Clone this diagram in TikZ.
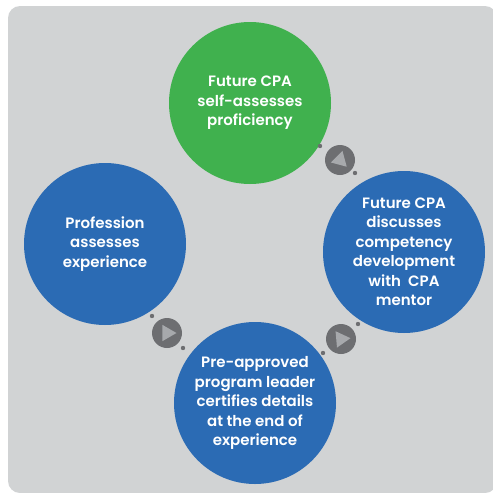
\documentclass[tikz,border=0pt]{standalone}
\usepackage{fontspec}
\setmainfont{Poppins}[UprightFont=* SemiBold]
\usepackage{tikz}
\usetikzlibrary{shapes,shapes.geometric}
\definecolor{bggray}{HTML}{D1D3D4}
\definecolor{stagegreen}{HTML}{40B14E}
\definecolor{stageblue}{HTML}{2B6BB4}
\definecolor{badgegray}{HTML}{6D6E71}
\definecolor{tipgray}{HTML}{A7A9AC}
\tikzstyle{stage} = [circle, draw=none, minimum size=162pt, inner sep=0pt, text=white, align=center, font=\fontsize{15}{19.5}\selectfont]
\tikzstyle{greenstage} = [stage, fill=stagegreen]
\tikzstyle{bluestage} = [stage, fill=stageblue]
\tikzstyle{badge} = [circle, fill=badgegray, minimum size=30pt, inner sep=0pt]
\tikzstyle{badgetip} = [regular polygon, regular polygon sides=3, fill=tipgray, minimum size=19pt, inner sep=0pt]
\tikzstyle{bead} = [circle, fill=badgegray, minimum size=4.4pt, inner sep=0pt]

\begin{document}
\begin{tikzpicture}[x=1pt, y=-1pt]
	\useasboundingbox (0,0) rectangle (493,493);
	% background panel
	\fill [bggray, rounded corners=12pt] (8,6) rectangle (497,493);

	% place stages
	\node [greenstage] (S1) at (250,103) {Future CPA\\self-assesses\\proficiency};
	\node [bluestage]  (S2) at (404,252) {Future CPA\\discusses\\competency\\development\\with\ \ CPA\\mentor};
	\node [bluestage]  (S3) at (255,403) {Pre-approved\\program leader\\certifies details\\at the end of\\experience};
	\node [bluestage]  (S4) at (105,244) {Profession\\assesses\\experience};

	% place badges between stages
	\node [badge] (B1) at (340,160) {};
	\node [badge] (B2) at (341,339) {};
	\node [badge] (B3) at (167,333) {};
	\node [badgetip, rotate=-15] at (B1) {};
	\node [badgetip, rotate=-85] at (B2) {};
	\node [badgetip, rotate=-90] at (B3) {};

	% beads beside badges
	\node [bead] (D1) at (320,146) {};
	\node [bead] (D2) at (355,173) {};
	\node [bead] (D3) at (358,324) {};
	\node [bead] (D4) at (323,353) {};
	\node [bead] (D5) at (152,316) {};
	\node [bead] (D6) at (183,348) {};
\end{tikzpicture}
\end{document}
